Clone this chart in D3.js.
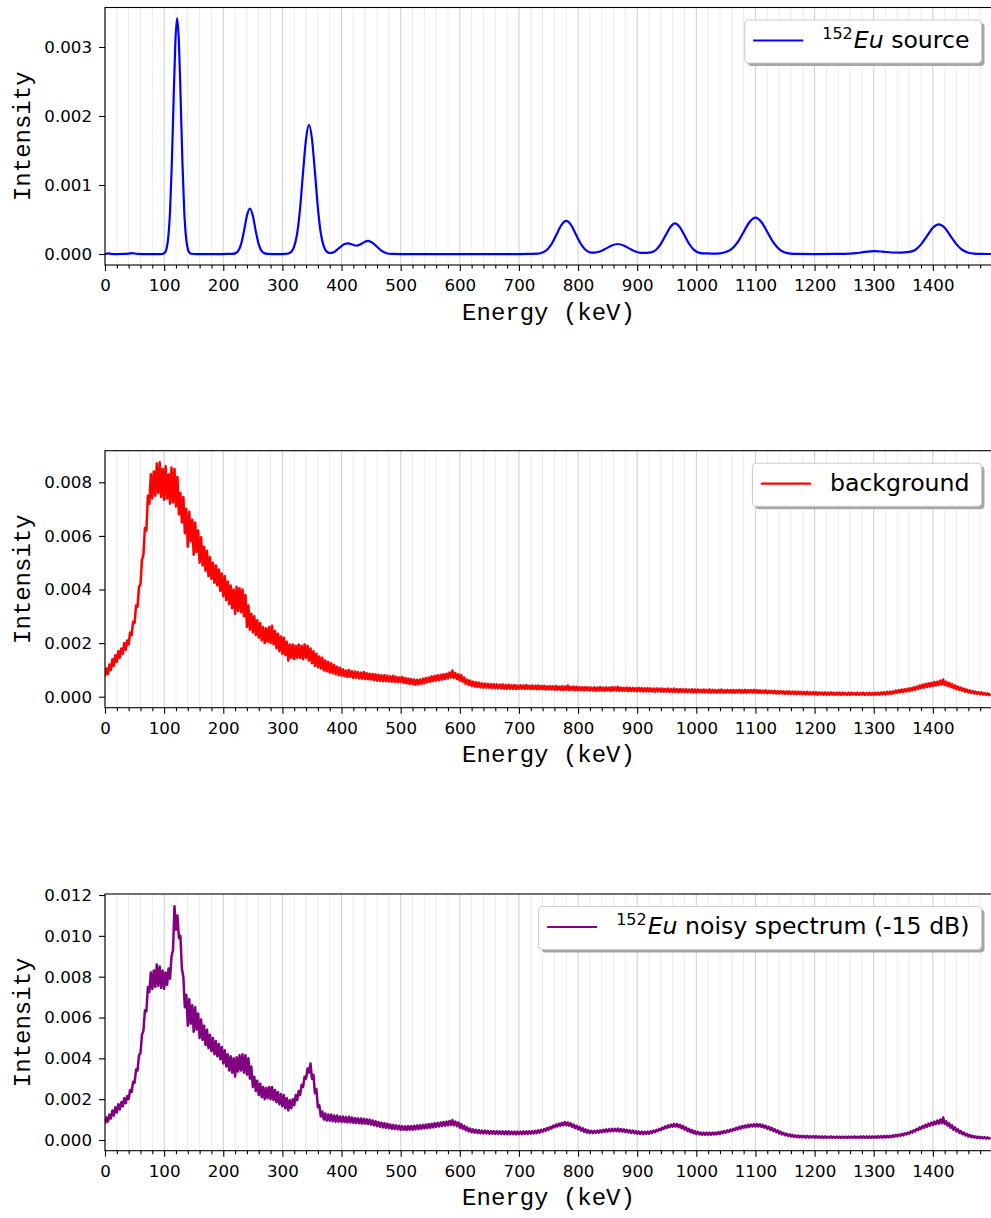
<!DOCTYPE html>
<html>
<head>
<meta charset="utf-8">
<script src="https://cdn.jsdelivr.net/npm/d3@7"></script>
<style>
  body { margin: 0; background: #fff; }
  svg { display: block; }
</style>
</head>
<body>
<div id="chart"></div>
<script>
// ---- data (intensities stored in units of 1e-3) ----

// Eu-152 source, smooth spectrum: energy (keV) / intensity
var srcEnergy = [0, 5, 10, 20, 35, 45, 55, 70, 95,
  98, 101, 104, 107, 110, 113, 116, 119, 122, 125, 128, 131, 134, 137, 140, 143, 146, 155,
  200, 210, 215, 220, 225, 230, 235, 240, 245, 250, 255, 260, 265, 270, 275, 285,
  300, 305, 310, 315, 320, 325, 330, 335, 340, 345, 350, 355, 360, 365, 370, 375, 380,
  385, 390, 395, 400, 405, 411, 418, 425, 432, 438, 445, 452, 460, 468, 476, 485, 500,
  600, 700, 720, 732, 740, 748, 756, 764, 772, 780, 788, 796, 804, 812, 820, 827,
  837, 847, 857, 867, 877, 887, 897, 907, 916,
  924, 932, 940, 948, 956, 964, 972, 980, 988, 996, 1004, 1012, 1020,
  1030, 1040, 1050, 1060, 1070, 1080, 1090, 1100, 1110, 1120, 1130, 1140, 1150, 1160, 1170, 1200,
  1250, 1270, 1285, 1300, 1315, 1330, 1345,
  1360, 1370, 1380, 1390, 1400, 1410, 1420, 1430, 1440, 1450, 1460, 1470, 1480, 1499];
var srcMilli = [0, 0.008, 0.003, 0, 0.002, 0.012, 0.003, 0, 0,
  0.004, 0.018, 0.074, 0.24, 0.62, 1.31, 2.23, 3.07, 3.42, 3.07, 2.23, 1.31, 0.62, 0.24, 0.074, 0.018, 0.004, 0,
  0, 0.002, 0.002, 0.009, 0.041, 0.139, 0.33, 0.555, 0.66, 0.555, 0.33, 0.139, 0.041, 0.009, 0.002, 0,
  0, 0.001, 0.007, 0.032, 0.11, 0.30, 0.67, 1.19, 1.67, 1.87, 1.67, 1.19, 0.67, 0.30, 0.11, 0.035, 0.015,
  0.02, 0.045, 0.08, 0.115, 0.145, 0.155, 0.138, 0.12, 0.14, 0.17, 0.19, 0.165, 0.105, 0.045, 0.012, 0.002, 0,
  0, 0, 0.002, 0.005, 0.021, 0.065, 0.156, 0.29, 0.423, 0.48, 0.423, 0.29, 0.156, 0.066, 0.024, 0.02,
  0.036, 0.078, 0.124, 0.145, 0.124, 0.078, 0.036, 0.018, 0.018,
  0.024, 0.062, 0.146, 0.27, 0.39, 0.445, 0.39, 0.27, 0.145, 0.06, 0.02, 0.008, 0.008,
  0.006, 0.01, 0.028, 0.075, 0.171, 0.32, 0.465, 0.527, 0.465, 0.32, 0.171, 0.071, 0.023, 0.006, 0.001, 0,
  0.002, 0.012, 0.03, 0.043, 0.035, 0.022, 0.02,
  0.03, 0.058, 0.14, 0.26, 0.38, 0.43, 0.38, 0.26, 0.14, 0.058, 0.019, 0.005, 0.001, 0];

// channel grid for the measured spectra (every 2.5 keV, 40 per row below)
var chanEnergy = d3.range(0, 1500, 2.5);

// measured background
var bgMilli = [
  0.75, 1.05, 0.85, 1.2, 1.0, 1.4, 1.15, 1.55, 1.3, 1.7, 1.45, 1.8, 1.6, 2.0, 1.75, 2.1, 1.95, 2.4, 2.3, 2.8, 2.75, 3.4, 3.35, 4.1, 4.2, 5.1, 5.3, 6.3, 6.2, 7.5, 7.2, 8.3, 7.4, 8.4, 7.5, 8.7, 7.6, 8.75, 7.45, 8.5,
  7.35, 8.6, 7.4, 8.3, 7.2, 8.55, 7.25, 8.5, 7.1, 8.2, 6.8, 7.6, 6.5, 7.45, 6.1, 7.0, 5.6, 6.9, 5.8, 6.6, 5.3, 6.5, 5.4, 6.2, 5.0, 5.95, 4.9, 5.6, 4.7, 5.45, 4.5, 5.2, 4.4, 5.0, 4.25, 4.9, 4.15, 4.75, 3.95, 4.6,
  3.75, 4.5, 3.6, 4.3, 3.45, 4.15, 3.3, 4.0, 3.1, 4.1, 3.2, 4.05, 3.15, 4.0, 3.0, 3.8, 2.6, 3.4, 2.5, 3.1, 2.4, 3.0, 2.3, 2.85, 2.2, 2.75, 2.1, 2.6, 2.0, 2.55, 2.05, 2.6, 2.0, 2.65, 1.95, 2.45, 1.8, 2.35, 1.7, 2.25,
  1.6, 2.2, 1.55, 2.05, 1.35, 1.95, 1.45, 1.95, 1.4, 1.9, 1.45, 1.95, 1.45, 1.9, 1.4, 1.95, 1.45, 1.9, 1.35, 1.8, 1.25, 1.7, 1.15, 1.6, 1.1, 1.5, 1.05, 1.45, 0.98, 1.35, 0.95, 1.3, 0.9, 1.25, 0.88, 1.18, 0.84, 1.12, 0.8, 1.08,
  0.78, 1.02, 0.76, 0.98, 0.74, 1.0, 0.75, 0.95, 0.7, 0.94, 0.71, 0.92, 0.68, 0.9, 0.67, 0.92, 0.66, 0.88, 0.65, 0.86, 0.64, 0.85, 0.62, 0.84, 0.6, 0.82, 0.6, 0.8, 0.58, 0.8, 0.58, 0.78, 0.57, 0.76, 0.56, 0.78, 0.55, 0.74, 0.54, 0.72,
  0.55, 0.74, 0.52, 0.7, 0.5, 0.68, 0.48, 0.66, 0.47, 0.64, 0.45, 0.63, 0.46, 0.64, 0.48, 0.67, 0.5, 0.7, 0.54, 0.72, 0.56, 0.76, 0.58, 0.78, 0.6, 0.8, 0.62, 0.82, 0.64, 0.84, 0.66, 0.86, 0.68, 0.9, 0.72, 0.98, 0.7, 0.88, 0.66, 0.84,
  0.6, 0.8, 0.56, 0.72, 0.48, 0.64, 0.44, 0.6, 0.4, 0.56, 0.38, 0.54, 0.36, 0.52, 0.35, 0.5, 0.34, 0.49, 0.34, 0.48, 0.33, 0.47, 0.32, 0.47, 0.32, 0.46, 0.31, 0.45, 0.31, 0.46, 0.3, 0.44, 0.3, 0.45, 0.3, 0.43, 0.29, 0.44, 0.29, 0.42,
  0.3, 0.43, 0.3, 0.42, 0.29, 0.44, 0.3, 0.41, 0.29, 0.42, 0.29, 0.41, 0.28, 0.42, 0.28, 0.4, 0.28, 0.41, 0.27, 0.39, 0.27, 0.4, 0.27, 0.39, 0.26, 0.4, 0.26, 0.38, 0.26, 0.39, 0.25, 0.38, 0.26, 0.42, 0.25, 0.37, 0.25, 0.38, 0.24, 0.37,
  0.24, 0.36, 0.24, 0.35, 0.23, 0.36, 0.24, 0.35, 0.23, 0.34, 0.23, 0.35, 0.22, 0.34, 0.23, 0.36, 0.23, 0.34, 0.22, 0.35, 0.23, 0.34, 0.22, 0.36, 0.23, 0.35, 0.23, 0.37, 0.22, 0.34, 0.22, 0.33, 0.22, 0.34, 0.21, 0.33, 0.22, 0.33, 0.21, 0.32,
  0.21, 0.33, 0.21, 0.32, 0.2, 0.31, 0.2, 0.32, 0.2, 0.31, 0.2, 0.3, 0.19, 0.31, 0.2, 0.3, 0.19, 0.3, 0.19, 0.29, 0.19, 0.3, 0.18, 0.29, 0.18, 0.3, 0.18, 0.28, 0.17, 0.29, 0.18, 0.28, 0.17, 0.28, 0.17, 0.27, 0.17, 0.28, 0.16, 0.27,
  0.16, 0.27, 0.17, 0.26, 0.16, 0.27, 0.16, 0.26, 0.16, 0.27, 0.15, 0.26, 0.16, 0.25, 0.15, 0.26, 0.16, 0.27, 0.15, 0.25, 0.15, 0.26, 0.16, 0.25, 0.15, 0.26, 0.15, 0.25, 0.16, 0.26, 0.15, 0.25, 0.15, 0.26, 0.15, 0.25, 0.16, 0.25, 0.15, 0.26,
  0.15, 0.25, 0.14, 0.24, 0.15, 0.23, 0.14, 0.24, 0.13, 0.22, 0.14, 0.22, 0.13, 0.22, 0.12, 0.21, 0.12, 0.21, 0.12, 0.2, 0.11, 0.2, 0.11, 0.2, 0.11, 0.19, 0.1, 0.19, 0.1, 0.19, 0.1, 0.18, 0.1, 0.18, 0.09, 0.18, 0.09, 0.17, 0.09, 0.17,
  0.09, 0.17, 0.08, 0.16, 0.09, 0.16, 0.08, 0.16, 0.08, 0.15, 0.08, 0.16, 0.08, 0.15, 0.07, 0.15, 0.08, 0.15, 0.07, 0.15, 0.08, 0.14, 0.07, 0.15, 0.07, 0.15, 0.08, 0.14, 0.07, 0.15, 0.07, 0.14, 0.08, 0.15, 0.07, 0.14, 0.07, 0.15, 0.07, 0.14,
  0.07, 0.15, 0.08, 0.15, 0.08, 0.16, 0.09, 0.17, 0.09, 0.18, 0.1, 0.19, 0.11, 0.2, 0.13, 0.23, 0.15, 0.25, 0.17, 0.27, 0.18, 0.28, 0.2, 0.3, 0.21, 0.32, 0.23, 0.35, 0.26, 0.38, 0.29, 0.42, 0.32, 0.45, 0.34, 0.48, 0.36, 0.5, 0.38, 0.52,
  0.4, 0.55, 0.42, 0.56, 0.44, 0.6, 0.46, 0.64, 0.44, 0.56, 0.4, 0.52, 0.36, 0.47, 0.32, 0.42, 0.28, 0.38, 0.25, 0.34, 0.22, 0.3, 0.19, 0.27, 0.16, 0.24, 0.14, 0.21, 0.12, 0.19, 0.11, 0.17, 0.09, 0.16, 0.08, 0.14, 0.07, 0.13, 0.06, 0.12
];

// source + background, -15 dB
var noisyMilli = [
  0.8, 1.1, 0.9, 1.25, 1.05, 1.45, 1.2, 1.6, 1.35, 1.75, 1.5, 1.85, 1.65, 2.05, 1.8, 2.15, 2.0, 2.45, 2.35, 2.85, 2.8, 3.45, 3.4, 4.15, 4.25, 5.15, 5.35, 6.35, 6.3, 7.5, 7.25, 8.2, 7.4, 8.3, 7.5, 8.6, 7.55, 8.5, 7.45, 8.3,
  7.4, 8.2, 7.6, 8.4, 7.9, 9.0, 9.3, 11.45, 10.3, 11.0, 9.9, 10.0, 8.4, 8.0, 6.5, 7.1, 5.6, 6.9, 5.7, 6.6, 5.3, 6.5, 5.4, 6.2, 5.0, 5.9, 4.9, 5.6, 4.65, 5.4, 4.5, 5.15, 4.35, 5.0, 4.2, 4.85, 4.1, 4.7, 3.95, 4.55,
  3.75, 4.4, 3.6, 4.2, 3.4, 4.1, 3.3, 4.0, 3.1, 4.05, 3.35, 4.15, 3.4, 4.2, 3.3, 4.15, 3.2, 4.0, 3.0, 3.6, 2.6, 3.1, 2.4, 2.9, 2.2, 2.75, 2.1, 2.6, 2.0, 2.55, 2.05, 2.6, 2.0, 2.6, 1.95, 2.45, 1.85, 2.35, 1.75, 2.25,
  1.65, 2.2, 1.55, 2.05, 1.45, 1.95, 1.55, 2.0, 1.7, 2.2, 1.95, 2.4, 2.2, 2.7, 2.6, 3.1, 3.0, 3.5, 3.3, 3.75, 3.0, 3.2, 2.3, 2.5, 1.6, 1.7, 1.15, 1.4, 1.0, 1.3, 0.95, 1.25, 0.95, 1.25, 0.92, 1.2, 0.9, 1.2, 0.9, 1.15,
  0.88, 1.15, 0.88, 1.12, 0.86, 1.14, 0.86, 1.1, 0.84, 1.08, 0.83, 1.06, 0.82, 1.05, 0.8, 1.04, 0.8, 1.02, 0.78, 1.0, 0.75, 0.96, 0.72, 0.92, 0.68, 0.88, 0.65, 0.85, 0.62, 0.82, 0.6, 0.8, 0.58, 0.76, 0.55, 0.74, 0.54, 0.72, 0.52, 0.7,
  0.5, 0.68, 0.5, 0.67, 0.49, 0.68, 0.5, 0.68, 0.5, 0.7, 0.52, 0.71, 0.53, 0.72, 0.55, 0.74, 0.57, 0.76, 0.58, 0.78, 0.6, 0.8, 0.62, 0.82, 0.64, 0.84, 0.66, 0.86, 0.68, 0.88, 0.7, 0.9, 0.72, 0.93, 0.74, 0.98, 0.72, 0.9, 0.68, 0.86,
  0.6, 0.78, 0.55, 0.7, 0.48, 0.62, 0.42, 0.56, 0.38, 0.52, 0.36, 0.5, 0.34, 0.48, 0.33, 0.46, 0.32, 0.46, 0.32, 0.45, 0.31, 0.44, 0.31, 0.44, 0.3, 0.43, 0.3, 0.43, 0.3, 0.42, 0.29, 0.42, 0.29, 0.42, 0.29, 0.41, 0.29, 0.41, 0.28, 0.41,
  0.29, 0.41, 0.29, 0.42, 0.3, 0.42, 0.3, 0.43, 0.31, 0.44, 0.32, 0.45, 0.34, 0.47, 0.36, 0.5, 0.4, 0.54, 0.45, 0.59, 0.5, 0.64, 0.56, 0.7, 0.62, 0.76, 0.66, 0.8, 0.7, 0.84, 0.72, 0.88, 0.72, 0.86, 0.7, 0.82, 0.64, 0.76, 0.58, 0.7,
  0.52, 0.64, 0.46, 0.58, 0.4, 0.52, 0.36, 0.48, 0.34, 0.45, 0.34, 0.45, 0.35, 0.46, 0.36, 0.48, 0.38, 0.5, 0.4, 0.52, 0.41, 0.53, 0.42, 0.55, 0.43, 0.55, 0.43, 0.56, 0.42, 0.54, 0.41, 0.52, 0.39, 0.5, 0.37, 0.48, 0.35, 0.46, 0.33, 0.44,
  0.31, 0.42, 0.3, 0.41, 0.29, 0.4, 0.3, 0.41, 0.31, 0.43, 0.34, 0.46, 0.38, 0.5, 0.43, 0.55, 0.48, 0.61, 0.54, 0.67, 0.59, 0.72, 0.63, 0.76, 0.65, 0.79, 0.66, 0.78, 0.63, 0.74, 0.58, 0.69, 0.51, 0.62, 0.44, 0.55, 0.38, 0.49, 0.33, 0.44,
  0.29, 0.4, 0.27, 0.37, 0.26, 0.36, 0.26, 0.36, 0.26, 0.36, 0.26, 0.37, 0.27, 0.37, 0.28, 0.39, 0.3, 0.41, 0.33, 0.44, 0.36, 0.47, 0.4, 0.51, 0.44, 0.55, 0.48, 0.6, 0.52, 0.64, 0.56, 0.68, 0.6, 0.71, 0.62, 0.74, 0.64, 0.76, 0.66, 0.77,
  0.66, 0.78, 0.66, 0.77, 0.64, 0.74, 0.6, 0.7, 0.55, 0.65, 0.5, 0.6, 0.44, 0.53, 0.38, 0.47, 0.32, 0.41, 0.27, 0.35, 0.23, 0.31, 0.2, 0.28, 0.17, 0.25, 0.15, 0.23, 0.14, 0.22, 0.13, 0.21, 0.13, 0.2, 0.12, 0.2, 0.12, 0.19, 0.12, 0.19,
  0.11, 0.19, 0.11, 0.18, 0.11, 0.18, 0.1, 0.18, 0.1, 0.17, 0.1, 0.18, 0.1, 0.17, 0.1, 0.17, 0.1, 0.17, 0.1, 0.17, 0.1, 0.17, 0.1, 0.17, 0.1, 0.17, 0.1, 0.18, 0.1, 0.17, 0.1, 0.18, 0.1, 0.18, 0.11, 0.18, 0.1, 0.18, 0.1, 0.18,
  0.11, 0.18, 0.11, 0.19, 0.11, 0.19, 0.12, 0.2, 0.12, 0.2, 0.13, 0.21, 0.14, 0.23, 0.16, 0.25, 0.18, 0.27, 0.2, 0.3, 0.23, 0.33, 0.27, 0.37, 0.31, 0.42, 0.36, 0.48, 0.42, 0.55, 0.48, 0.62, 0.54, 0.68, 0.6, 0.75, 0.65, 0.8, 0.7, 0.85,
  0.74, 0.9, 0.78, 0.95, 0.8, 1.0, 0.82, 1.1, 0.78, 0.92, 0.7, 0.82, 0.6, 0.72, 0.5, 0.62, 0.42, 0.52, 0.34, 0.44, 0.28, 0.37, 0.22, 0.3, 0.17, 0.25, 0.14, 0.21, 0.12, 0.18, 0.1, 0.16, 0.09, 0.15, 0.08, 0.14, 0.07, 0.13, 0.07, 0.12
];

var xMajor = d3.range(0, 1500, 100);
var xMinor = d3.range(20, 1500, 20).filter(d => d % 100 !== 0);

// ---- layout ----
var width = 991, height = 1218;
var tickFont = "'DejaVu Sans', sans-serif";
var labelFont = "'Liberation Mono', 'Courier New', monospace";

var svg = d3.select("#chart").append("svg")
    .attr("width", width)
    .attr("height", height);

var xScale = d3.scaleLinear().domain([0, 1499]).range([105, 991.4]);

var panels = [
  { id: "p1", top: 7.5, bottom: 265, yDomain: [-0.159, 3.572], yTicks: [0, 1, 2, 3],
    energy: srcEnergy, values: srcMilli, colour: "#0000ff", smooth: true, lw: 2.2,
    legend: ["152", "Eu", " source"] },
  { id: "p2", top: 450.7, bottom: 707.7, yDomain: [-0.41, 9.18], yTicks: [0, 2, 4, 6, 8],
    energy: chanEnergy, values: bgMilli, colour: "#ff0000", smooth: false, lw: 2.5,
    legend: [null, null, "background"] },
  { id: "p3", top: 894, bottom: 1150.7, yDomain: [-0.524, 12.05], yTicks: [0, 2, 4, 6, 8, 10, 12],
    energy: chanEnergy, values: noisyMilli, colour: "#800080", smooth: false, lw: 2.5,
    legend: ["152", "Eu", " noisy spectrum (-15 dB)"] }
];

panels.forEach(drawPanel);

function drawPanel(p) {
  var yScale = d3.scaleLinear().domain(p.yDomain).range([p.bottom, p.top]);
  var g = svg.append("g").attr("class", "panel");
  var left = xScale.range()[0], right = xScale.range()[1];

  // grid
  g.append("g").selectAll("line").data(xMinor).enter().append("line")
      .attr("x1", d => xScale(d)).attr("x2", d => xScale(d))
      .attr("y1", p.top).attr("y2", p.bottom)
      .attr("stroke", "#ececec").attr("stroke-width", 1);
  g.append("g").selectAll("line").data(xMajor).enter().append("line")
      .attr("x1", d => xScale(d)).attr("x2", d => xScale(d))
      .attr("y1", p.top).attr("y2", p.bottom)
      .attr("stroke", "#d2d2d2").attr("stroke-width", 1.1);

  // clip
  svg.append("clipPath").attr("id", "clip-" + p.id)
    .append("rect").attr("x", left).attr("y", p.top)
    .attr("width", right - left).attr("height", p.bottom - p.top);

  var pts = p.energy.map((e, i) => [e, p.values[i]]);
  var line = d3.line()
      .x(d => xScale(d[0]))
      .y(d => yScale(d[1]))
      .curve(p.smooth ? d3.curveMonotoneX : d3.curveLinear);

  g.append("path")
      .attr("clip-path", "url(#clip-" + p.id + ")")
      .attr("d", line(pts))
      .attr("fill", "none")
      .attr("stroke", p.colour)
      .attr("stroke-width", p.lw)
      .attr("stroke-linejoin", "round");

  // axes
  var xAxis = g.append("g")
      .attr("transform", "translate(0," + p.bottom + ")")
      .call(d3.axisBottom(xScale).tickValues(xMajor).tickSize(6).tickSizeOuter(0).tickPadding(8.5)
        .tickFormat(d3.format("d")));
  g.append("g")
      .attr("transform", "translate(0," + p.bottom + ")")
      .call(d3.axisBottom(xScale).tickValues(xMinor).tickSize(3.5).tickSizeOuter(0).tickFormat(""))
      .select(".domain").remove();
  var yAxis = g.append("g")
      .attr("transform", "translate(" + left + ",0)")
      .call(d3.axisLeft(yScale).tickValues(p.yTicks).tickSize(6).tickSizeOuter(0).tickPadding(7)
        .tickFormat(d => (d / 1000).toFixed(3)));
  yAxis.select(".domain").remove();
  xAxis.select(".domain").remove();

  g.selectAll(".tick line").attr("stroke", "#000").attr("stroke-width", 1.1);
  g.selectAll(".tick text")
      .attr("fill", "#000")
      .style("font-family", tickFont)
      .style("font-size", "16.67px");

  // spines
  g.append("rect")
      .attr("x", left).attr("y", p.top)
      .attr("width", right - left + 2).attr("height", p.bottom - p.top)
      .attr("fill", "none").attr("stroke", "#000").attr("stroke-width", 1.1);

  // axis labels
  g.append("text")
      .attr("x", (left + 991) / 2 + 0.5)
      .attr("y", p.bottom + 48)
      .attr("text-anchor", "middle")
      .attr("dominant-baseline", "central")
      .style("font-family", labelFont)
      .style("font-size", "24px")
      .text("Energy (keV)");
  g.append("text")
      .attr("transform", "translate(23," + ((p.top + p.bottom) / 2) + ") rotate(-90)")
      .attr("text-anchor", "middle")
      .attr("dominant-baseline", "central")
      .style("font-family", labelFont)
      .style("font-size", "24px")
      .text("Intensity");

  drawLegend(g, p);
}

function drawLegend(g, p) {
  var fs = 23.6;
  var lg = g.append("g");
  var shadow = lg.append("rect");
  var box = lg.append("rect");
  var handle = lg.append("line");
  var txt = lg.append("text")
      .style("font-family", tickFont)
      .style("font-size", fs + "px")
      .attr("fill", "#000");

  if (p.legend[0]) {
    txt.append("tspan").attr("dy", -9).style("font-size", "16px").text(p.legend[0]);
    txt.append("tspan").attr("dy", 9).attr("dx", 1).style("font-style", "italic").text(p.legend[1]);
  }
  txt.append("tspan").text(p.legend[2]);

  var tw = txt.node().getBBox().width;
  var padL = 8.5, hLen = 50, hGap = 19, padR = 12;
  var boxW = padL + hLen + hGap + tw + padR;
  var boxH = 43;
  var bx = 981.5 - boxW;
  var by = p.top + 12.5;

  shadow.attr("x", bx + 3).attr("y", by + 3).attr("width", boxW).attr("height", boxH)
      .attr("rx", 4).attr("fill", "#a6a6a6");
  box.attr("x", bx).attr("y", by).attr("width", boxW).attr("height", boxH)
      .attr("rx", 4).attr("fill", "#fff").attr("stroke", "#cccccc").attr("stroke-width", 1.1);
  handle.attr("x1", bx + padL).attr("x2", bx + padL + hLen)
      .attr("y1", by + 20.5).attr("y2", by + 20.5)
      .attr("stroke", p.colour).attr("stroke-width", 2.2);
  txt.attr("x", bx + padL + hLen + hGap).attr("y", by + 27.5);
}
</script>
</body>
</html>
